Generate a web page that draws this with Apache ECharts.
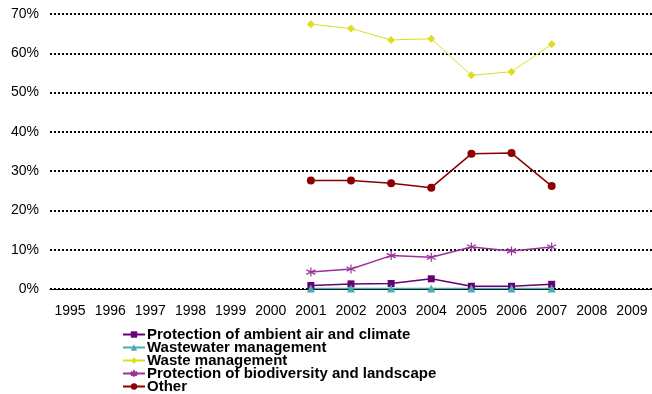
<!DOCTYPE html>
<html>
<head>
<meta charset="utf-8">
<script src="https://cdn.jsdelivr.net/npm/echarts@6/dist/echarts.min.js"></script>
<style>
  html, body { margin: 0; padding: 0; background: #fff; }
  #main { width: 652px; height: 394px; }
</style>
</head>
<body>
<div id="main"></div>
<script>
var years = ['1995', '1996', '1997', '1998', '1999', '2000', '2001', '2002', '2003', '2004', '2005', '2006', '2007', '2008', '2009'];
var airClimate = ['-', '-', '-', '-', '-', '-', 0.9, 1.3, 1.4, 2.6, 0.7, 0.7, 1.2, '-', '-'];
var wastewater = ['-', '-', '-', '-', '-', '-', 0.1, 0.1, 0.1, 0.1, 0.1, 0.1, 0.1, '-', '-'];
var waste = ['-', '-', '-', '-', '-', '-', 67.4, 66.3, 63.4, 63.7, 54.4, 55.3, 62.3, '-', '-'];
var biodiversity = ['-', '-', '-', '-', '-', '-', 4.3, 5.1, 8.5, 8.1, 10.7, 9.7, 10.7, '-', '-'];
var other = ['-', '-', '-', '-', '-', '-', 27.6, 27.6, 26.9, 25.8, 34.4, 34.6, 26.2, '-', '-'];

var chart = echarts.init(document.getElementById('main'));

// asterisk marker, stroked
var starPath = 'path://M5,0 L5,10 M0.7,2.5 L9.3,7.5 M0.7,7.5 L9.3,2.5';

function mkLine(name, data, color, symbol, size, width) {
  return {
    name: name,
    type: 'line',
    data: data,
    symbol: symbol,
    symbolSize: size,
    showAllSymbol: true,
    lineStyle: { color: color, width: width },
    itemStyle: { color: color },
    emphasis: { disabled: true }
  };
}

var bio = mkLine('Protection of biodiversity and landscape', biodiversity, '#993399', starPath, 9, 1.5);
bio.itemStyle = { color: 'rgba(0,0,0,0)', borderColor: '#993399', borderWidth: 1.2 };

var option = {
  animation: false,
  textStyle: { fontFamily: 'Liberation Sans, Arial, sans-serif' },
  grid: {
    left: 50,
    right: -4,
    top: 14,
    bottom: 105,
    containLabel: false
  },
  legend: {
    orient: 'vertical',
    left: 122,
    top: 327,
    height: 120,
    padding: 0,
    itemWidth: 22,
    itemHeight: 8,
    itemGap: -2,
    textStyle: { fontSize: 15, fontWeight: 'bold', color: '#000', padding: [0, 0, 0, -3] },
    data: [
      'Protection of ambient air and climate',
      'Wastewater management',
      'Waste management',
      'Protection of biodiversity and landscape',
      'Other'
    ]
  },
  xAxis: {
    type: 'category',
    data: years,
    boundaryGap: true,
    axisLine: { lineStyle: { color: '#000', width: 1 } },
    axisTick: { length: 5, interval: 0, lineStyle: { color: '#808080' } },
    axisLabel: { color: '#000', fontSize: 14, margin: 15, interval: 0 }
  },
  yAxis: {
    type: 'value',
    min: 0,
    max: 70,
    interval: 10,
    axisLine: { show: false },
    axisTick: { show: false },
    axisLabel: { formatter: '{value}%', color: '#000', fontSize: 14, margin: 11 },
    splitLine: { lineStyle: { color: '#000', width: 2, type: [2, 2] } }
  },
  series: [
    mkLine('Protection of ambient air and climate', airClimate, '#660077', 'rect', 7, 1.5),
    mkLine('Wastewater management', wastewater, '#4bacb0', 'triangle', 8, 1.5),
    mkLine('Waste management', waste, '#dddd22', 'diamond', 8, 1),
    bio,
    mkLine('Other', other, '#8b0000', 'circle', 8, 1.5)
  ]
};

chart.setOption(option);
</script>
</body>
</html>
